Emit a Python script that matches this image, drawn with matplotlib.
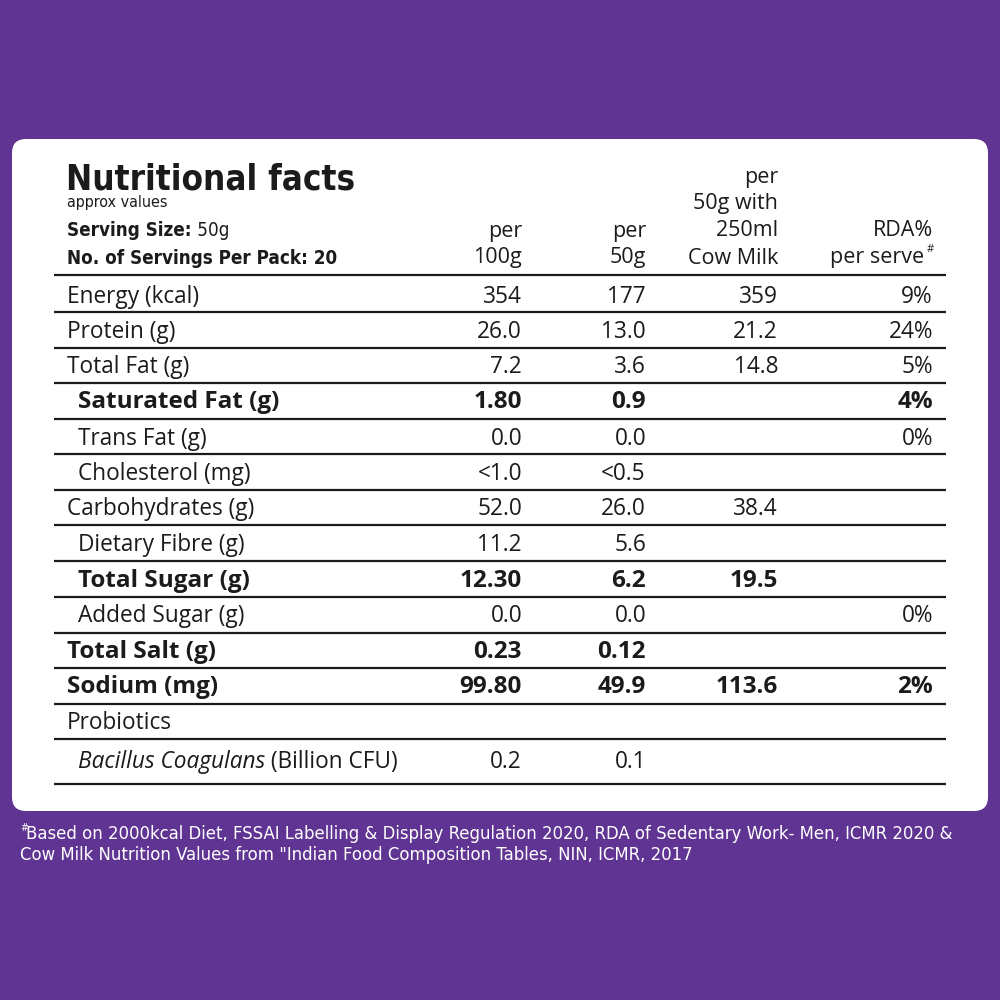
import matplotlib

matplotlib.use("Agg")
import matplotlib.pyplot as plt
from matplotlib.patches import FancyBboxPatch

# table content
labels = [
    "Energy (kcal)", "Protein (g)", "Total Fat (g)", "Saturated Fat (g)",
    "Trans Fat (g)", "Cholesterol (mg)", "Carbohydrates (g)", "Dietary Fibre (g)",
    "Total Sugar (g)", "Added Sugar (g)", "Total Salt (g)", "Sodium (mg)",
    "Probiotics", "Bacillus Coagulans",
]
indented = [False, False, False, True, True, True, False, True, True, True, False, False, False, True]
bold_rows = [False, False, False, True, False, False, False, False, True, False, True, True, False, False]
per_100g = ["354", "26.0", "7.2", "1.80", "0.0", "<1.0", "52.0", "11.2", "12.30", "0.0", "0.23", "99.80", "", "0.2"]
per_50g = ["177", "13.0", "3.6", "0.9", "0.0", "<0.5", "26.0", "5.6", "6.2", "0.0", "0.12", "49.9", "", "0.1"]
with_milk = ["359", "21.2", "14.8", "", "", "", "38.4", "", "19.5", "", "", "113.6", "", ""]
rda = ["9%", "24%", "5%", "4%", "0%", "", "", "", "", "0%", "", "2%", "", ""]
col_headers = [["per", "100g"], ["per", "50g"], ["per", "50g with", "250ml", "Cow Milk"], ["RDA%", "per serve"]]
footnote = [
    "Based on 2000kcal Diet, FSSAI Labelling & Display Regulation 2020, RDA of Sedentary Work- Men, ICMR 2020 &",
    "Cow Milk Nutrition Values from \"Indian Food Composition Tables, NIN, ICMR, 2017",
]

PURPLE = "#5f3492"
INK = "#1b1b1b"
BODY = ["Open Sans", "DejaVu Sans"]
COND = dict(family="DejaVu Sans", fontstretch="condensed")

fig = plt.figure(figsize=(10, 10), dpi=100, facecolor=PURPLE)
ax = fig.add_axes([0, 0, 1, 1])
ax.set_xlim(0, 1000)
ax.set_ylim(1000, 0)
ax.axis("off")

ax.add_patch(FancyBboxPatch((12, 139), 976, 672, boxstyle="round,pad=0,rounding_size=14",
                            facecolor="white", edgecolor="none"))


def after(txt, s, y, **kw):
    # place a text run right after another one
    fig.canvas.draw()
    bb = txt.get_window_extent()
    return ax.annotate(s, xy=(bb.x1 / fig.bbox.width, 1 - y / 1000), xycoords="figure fraction",
                       va="center", color=INK, **kw)


# left header block
ax.text(66, 179, "Nutritional facts", fontsize=25, fontweight="bold", color=INK, va="center", **COND)
ax.text(67, 202, "approx values", fontsize=11.5, color=INK, va="center", **COND)
t = ax.text(67, 230, "Serving Size:", fontsize=13.5, fontweight="bold", color=INK, va="center", **COND)
ax.text(67, 258, "No. of Servings Per Pack: 20", fontsize=13.5, fontweight="bold", color=INK, va="center", **COND)
after(t, " 50g", 230, fontsize=13.5, **COND)

# column headers
col_x = [522, 646, 778, 933]
for x, lines in zip(col_x, col_headers):
    n = len(lines)
    for i, line in enumerate(lines):
        y = 258 - (n - 1 - i) * 27
        ax.text(x - (9 if line == "per serve" else 0), y, line, fontsize=15.5, family=BODY,
                color=INK, ha="right", va="center")
ax.text(934, 250, "#", fontsize=8, family=BODY, color=INK, ha="right", va="center")

# rules
row_y = [297, 332, 367, 402, 439, 474, 509, 545, 581, 616, 652, 687, 723, 762]
rule_y = [275, 312, 348, 383, 419, 454, 490, 525, 561, 597, 633, 668, 704, 739, 784]
for y in rule_y:
    ax.plot([54, 946], [y, y], color=INK, lw=1.6, solid_capstyle="butt")

# rows
for i, label in enumerate(labels):
    y = row_y[i]
    x0 = 78 if indented[i] else 67
    weight = "bold" if bold_rows[i] else "normal"
    size = 17.5 if bold_rows[i] else 16.3
    style = "italic" if label.startswith("Bacillus") else "normal"
    lt = ax.text(x0, y, label, fontsize=size, fontweight=weight, fontstyle=style,
                 family=BODY, color=INK, va="center")
    if style == "italic":
        after(lt, " (Billion CFU)", y, fontsize=size, family=BODY)
    for x, col in zip(col_x, [per_100g, per_50g, with_milk, rda]):
        if col[i]:
            ax.text(x, y, col[i], fontsize=size, fontweight=weight, family=BODY,
                    color=INK, ha="right", va="center")

ax.text(20, 828, "#", fontsize=7.5, color="white", va="center", **COND)
ax.text(26, 834, footnote[0], fontsize=13.2, color="white", va="center", **COND)
ax.text(20, 855, footnote[1], fontsize=13.2, color="white", va="center", **COND)

fig.savefig("out.png", dpi=100, facecolor=PURPLE)
